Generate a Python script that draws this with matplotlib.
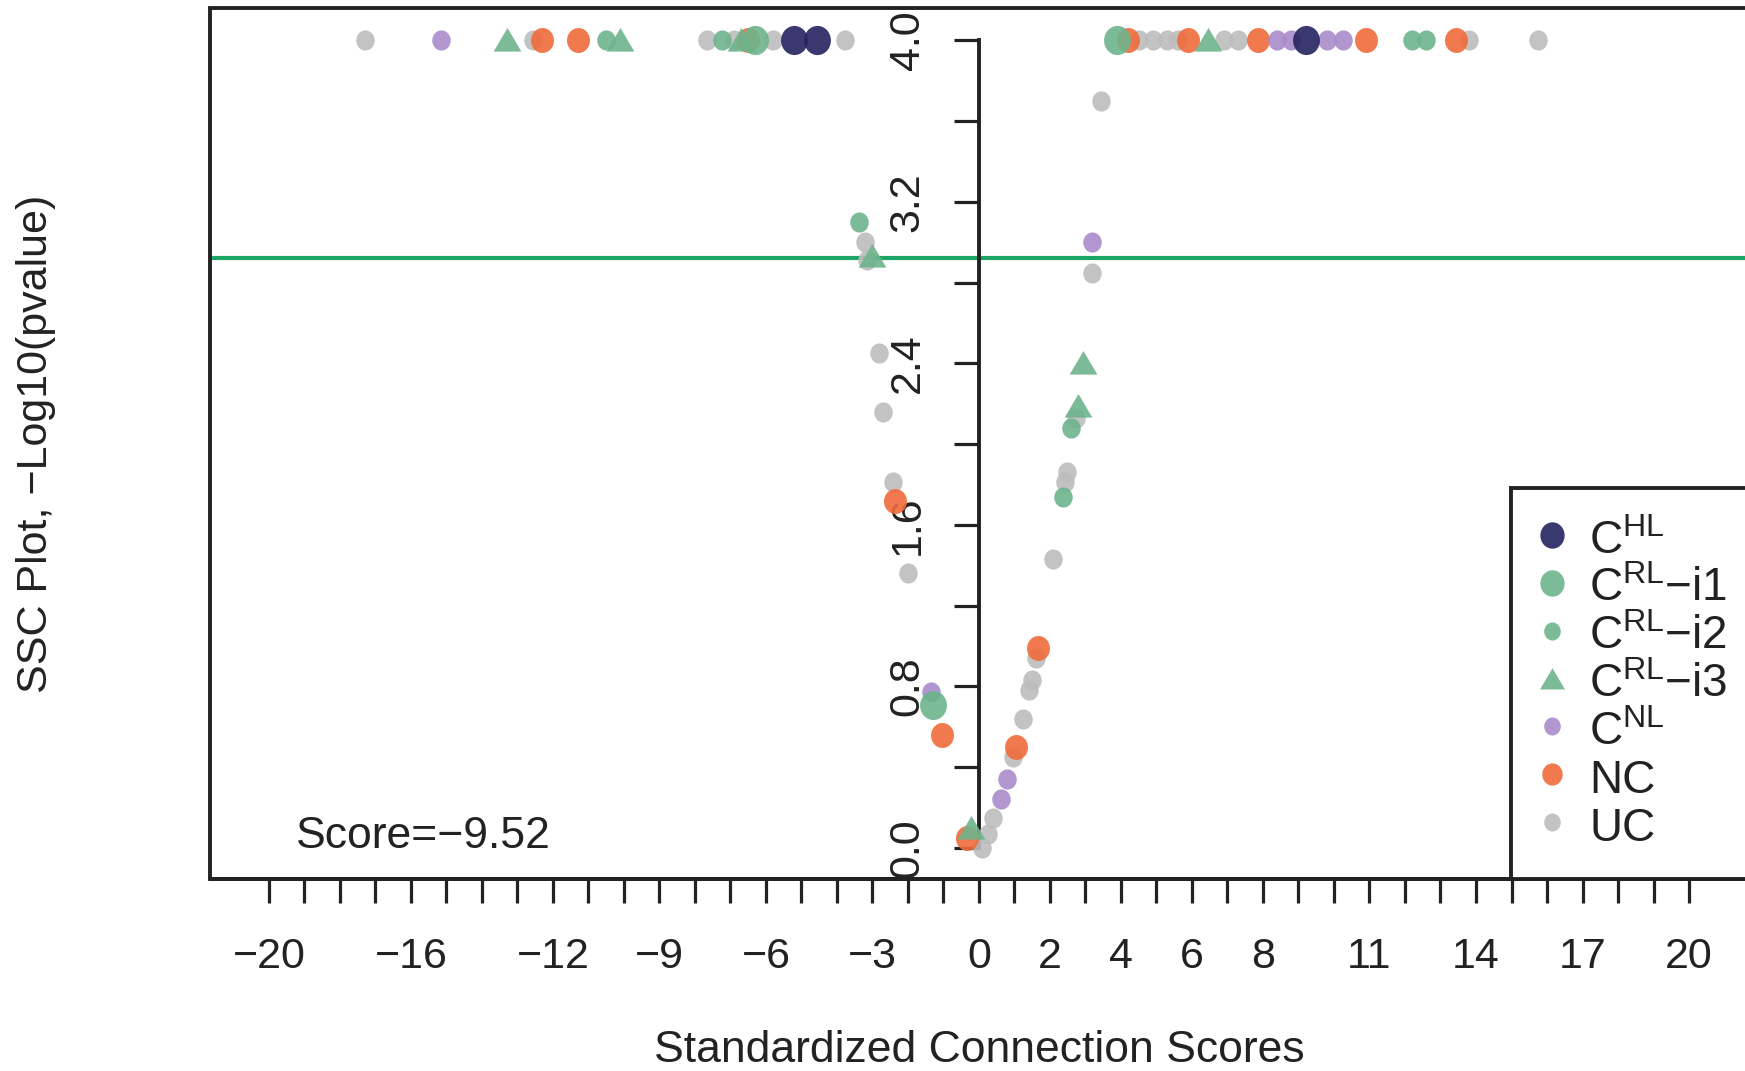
import numpy as np
import matplotlib
matplotlib.use("Agg")
from matplotlib import pyplot as plt
from matplotlib.path import Path
from matplotlib.lines import Line2D
from matplotlib.patches import Rectangle

plt.rcParams['font.family'] = ['Liberation Sans', 'DejaVu Sans']
plt.rcParams['mathtext.fontset'] = 'custom'
plt.rcParams['mathtext.rm'] = 'Liberation Sans'
plt.rcParams['mathtext.it'] = 'Liberation Sans:italic'

# standardized connection scores (x) and -log10(pvalue) (y, capped at 4.0)
chl_x = [-5.2, -4.55, 9.2]
chl_y = [4.0, 4.0, 4.0]

crl1_x = [-6.3, 3.88, -1.3]
crl1_y = [4.0, 4.0, 0.71]

crl2_x = [-10.5, -7.24, 12.2, 12.6, -3.38, 2.37, 2.59]
crl2_y = [4.0, 4.0, 4.0, 4.0, 3.10, 1.74, 2.08]

crl3_x = [-13.3, -10.1, -6.7, 6.45, -3.0, -0.23, 2.79, 2.93]
crl3_y = [4.0, 4.0, 4.0, 4.0, 2.93, 0.10, 2.19, 2.40]

cnl_x = [-15.15, 8.4, 8.8, 9.8, 10.25, -1.35, 0.62, 0.78, 3.18]
cnl_y = [4.0, 4.0, 4.0, 4.0, 4.0, 0.77, 0.24, 0.34, 3.0]

nc_x = [-12.3, -11.3, -6.5, 4.2, 5.9, 7.85, 10.9, 13.45,
        -2.37, -1.04, -0.34, 1.04, 1.66]
nc_y = [4.0, 4.0, 4.0, 4.0, 4.0, 4.0, 4.0, 4.0,
        1.72, 0.56, 0.05, 0.50, 0.99]

uc_x = [-17.3, -12.55, -7.65, -6.9, -5.8, -3.77, 4.5, 4.9, 5.3, 5.6, 6.9, 7.3, 13.8, 15.75,
        -3.21, -3.15, -2.82, -2.7, -2.42, -2.0,
        0.08, 0.25, 0.39, 0.96, 1.24, 1.41, 1.49, 1.6, 2.08, 2.42, 2.48, 2.73, 3.18, 3.43]
uc_y = [4.0, 4.0, 4.0, 4.0, 4.0, 4.0, 4.0, 4.0, 4.0, 4.0, 4.0, 4.0, 4.0, 4.0,
        3.0, 2.91, 2.45, 2.16, 1.81, 1.36,
        0.0, 0.07, 0.15, 0.45, 0.64, 0.78, 0.83, 0.94, 1.43, 1.81, 1.86, 2.13, 2.85, 3.70]

threshold = 2.92
score_text = 'Score=\u22129.52'

xtick_labels = [-20, -16, -12, -9, -6, -3, 0, 2, 4, 6, 8, 11, 14, 17, 20]
ytick_labels = [0.0, 0.8, 1.6, 2.4, 3.2, 4.0]

legend_labels = [r'$\mathregular{C^{HL}}$',
                 '$\\mathregular{C^{RL}}$\u2212i1',
                 '$\\mathregular{C^{RL}}$\u2212i2',
                 '$\\mathregular{C^{RL}}$\u2212i3',
                 r'$\mathregular{C^{NL}}$',
                 'NC', 'UC']

# slightly tall markers, the source picture is squeezed a bit
circ = Path.unit_circle()
circ = Path(circ.vertices * [0.92, 1.0], circ.codes)
tri = Path([(0, 0.9), (-1, -0.8), (1, -0.8), (0, 0.9)], closed=True)

# (x, y, colour, marker, size in pt, legend size) drawn bottom to top
groups = [
    (uc_x, uc_y, '#BDBDBD', circ, 14.5, 13),
    (nc_x, nc_y, '#EF6C3A', circ, 18, 16),
    (cnl_x, cnl_y, '#A98BCB', circ, 14.5, 13),
    (crl3_x, crl3_y, '#6DB48C', tri, 20, 18),
    (crl2_x, crl2_y, '#6DB48C', circ, 14.5, 13),
    (crl1_x, crl1_y, '#6DB48C', circ, 21, 19),
    (chl_x, chl_y, '#24235F', circ, 21, 19),
]

ink = '#222222'
fig = plt.figure(figsize=(17.45, 10.71), dpi=100)
ax = fig.add_axes([0.1203, 0.1793, 0.8814, 0.8132])
ax.set_xlim(-21.66, 21.66)
ax.set_ylim(-0.154, 4.16)

ax.axhline(threshold, color='#1DA567', lw=3, zorder=1)

for i, (xs, ys, col, mk, sz, lsz) in enumerate(groups):
    ax.scatter(xs, ys, s=sz ** 2, marker=mk, color=col, alpha=0.9,
               linewidths=0, zorder=3 + i)

# box round the plot, y axis sits at score 0
ax.add_patch(Rectangle((0, 0), 1, 1, transform=ax.transAxes, fill=False,
                       lw=2.8, ec=ink, clip_on=False, zorder=10))
ax.spines['top'].set_visible(False)
ax.spines['right'].set_visible(False)
ax.spines['left'].set_position(('data', 0))
ax.spines['left'].set_bounds(0, 4)
for s in ['left', 'bottom']:
    ax.spines[s].set_linewidth(2.8)
    ax.spines[s].set_color(ink)

xt = np.arange(-20, 21)
ax.set_xticks(xt)
ax.set_xticklabels([str(v).replace('-', '\u2212') if v in xtick_labels else '' for v in xt])
ax.tick_params(axis='x', length=17, width=2.3, pad=25, labelsize=31, color=ink, labelcolor=ink)

yt = np.round(np.arange(0, 4.01, 0.4), 1)
ax.set_yticks(yt)
ax.set_yticklabels(['%.1f' % v if v in ytick_labels else '' for v in yt])
ax.tick_params(axis='y', length=18, width=2.3, pad=19, labelsize=31, labelrotation=90,
               color=ink, labelcolor=ink)
for t in ax.get_yticklabels():
    t.set_va('center')

ax.set_xlabel('Standardized Connection Scores', fontsize=32, color=ink, va='center')
ax.xaxis.set_label_coords(0.5, -0.197)
ax.set_ylabel('SSC Plot, \u2212Log10(pvalue)', fontsize=31, color=ink, va='center')
ax.yaxis.set_label_coords(-0.113, 0.5)

ax.text(0.056, 0.049, score_text, transform=ax.transAxes, fontsize=32,
        color=ink, ha='left', va='center')

handles = [Line2D([], [], ls='none', marker=mk, ms=lsz, color=col, alpha=0.9, mew=0)
           for (xs, ys, col, mk, sz, lsz) in groups[::-1]]
leg = ax.legend(handles, legend_labels, loc='lower left',
                bbox_to_anchor=(0.846, 0, 0.3, 0.5), mode='expand', borderaxespad=0,
                fontsize=33, fancybox=False, edgecolor=ink, framealpha=1,
                handlelength=0.53, handletextpad=0.55, borderpad=0.62,
                labelspacing=0.02, handleheight=1.05)
leg.get_frame().set_linewidth(2.8)
leg.set_zorder(20)
for t in leg.get_texts():
    t.set_color(ink)

fig.savefig('out.png', dpi=100)
